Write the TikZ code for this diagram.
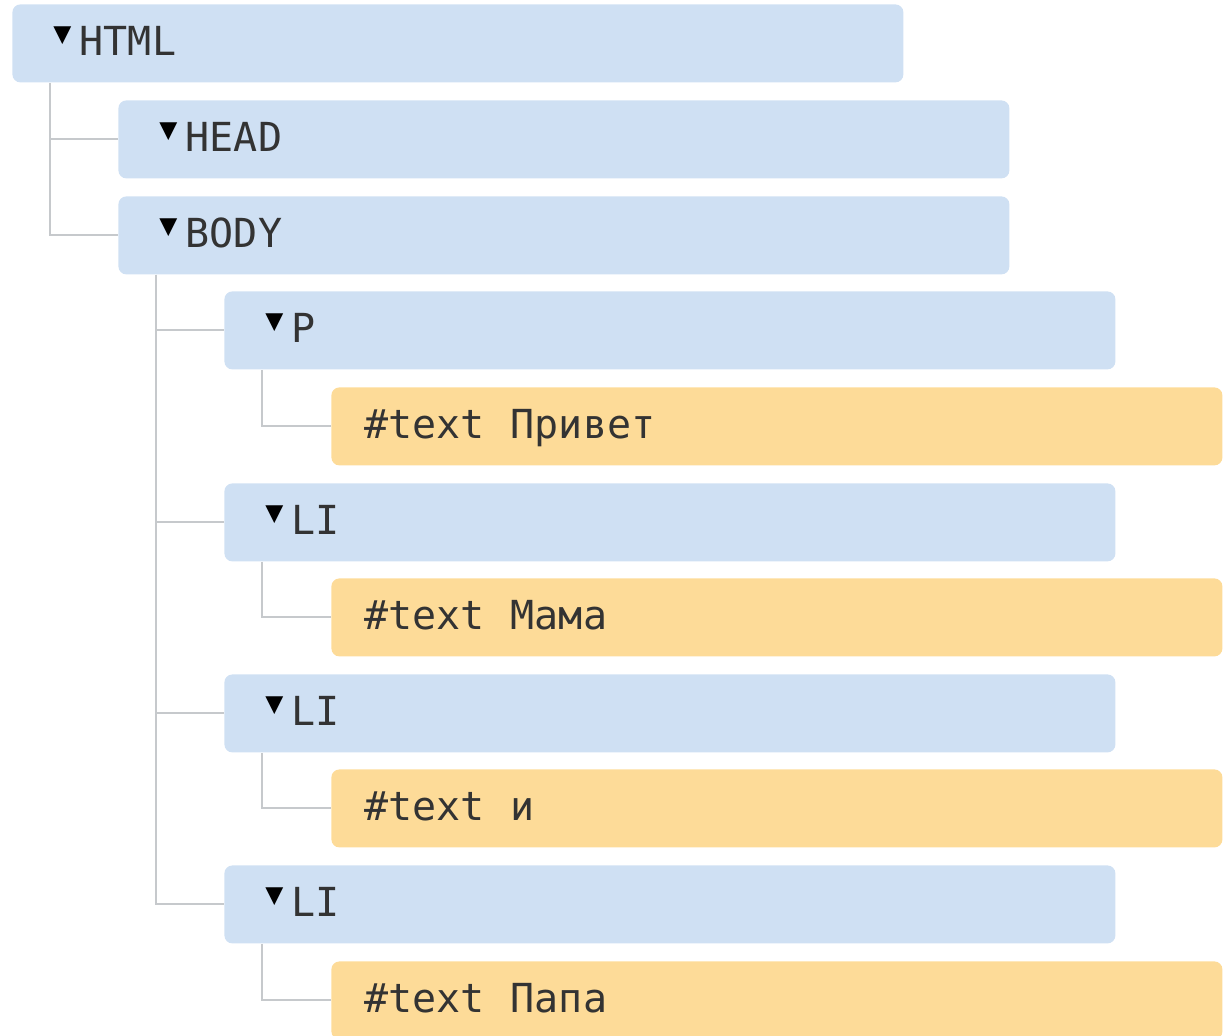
\documentclass[tikz,border=0pt]{standalone}
\usepackage{fontspec}
\setmonofont{DejaVu Sans Mono}
\usetikzlibrary{positioning}
\definecolor{tagblue}{HTML}{CFE0F3}
\definecolor{textorange}{HTML}{FDDB98}
\definecolor{linkgrey}{HTML}{C6C9CC}
\definecolor{labelgrey}{HTML}{333333}
\newcommand{\tri}{\makebox[0.66em][l]{\raisebox{0.3em}{\scalebox{0.75}{\color{black}▼}}}}
\newcommand{\gap}{\hspace*{0.65em}}
\tikzset{
  box/.style={anchor=north west, rounded corners=4pt, minimum height=39pt, inner ysep=0pt,
    align=left, font=\ttfamily\fontsize{20}{24}\selectfont, text=labelgrey,
    text height=1.5em, text depth=0.27em},
  tagbox/.style={box, fill=tagblue, inner xsep=20.5pt, text width=404.5pt},
  textbox/.style={box, fill=textorange, inner xsep=16.5pt, text width=412.5pt},
  link/.style={draw=linkgrey, line width=1pt}
}
\begin{document}
\begin{tikzpicture}[x=0.5pt,y=-0.5pt]
        \useasboundingbox (0,0) rectangle (1224,1035);
        % tags
        \node[tagbox] (html) at (12,4) {\tri HTML};
        \node[tagbox] (head) at (118,100) {\tri HEAD};
        \node[tagbox] (body) at (118,196) {\tri BODY};
        \node[tagbox] (p) at (224,291) {\tri P};
        \node[tagbox] (li1) at (224,483) {\tri LI};
        \node[tagbox] (li2) at (224,674) {\tri LI};
        \node[tagbox] (li3) at (224,865) {\tri LI};
        % text nodes
        \node[textbox] (t1) at (331,387) {\#text\gap Привет};
        \node[textbox] (t2) at (331,578) {\#text\gap Мама};
        \node[textbox] (t3) at (331,769) {\#text\gap и};
        \node[textbox] (t4) at (331,961) {\#text\gap Папа};
        % links
        \draw[link] ([xshift=19pt]html.south west) |- (head.west);
        \draw[link] ([xshift=19pt]html.south west) |- (body.west);
        \foreach \n in {p,li1,li2,li3}
          \draw[link] ([xshift=19pt]body.south west) |- (\n.west);
        \draw[link] ([xshift=19pt]p.south west) |- (t1.west);
        \draw[link] ([xshift=19pt]li1.south west) |- (t2.west);
        \draw[link] ([xshift=19pt]li2.south west) |- (t3.west);
        \draw[link] ([xshift=19pt]li3.south west) |- (t4.west);
\end{tikzpicture}
\end{document}
